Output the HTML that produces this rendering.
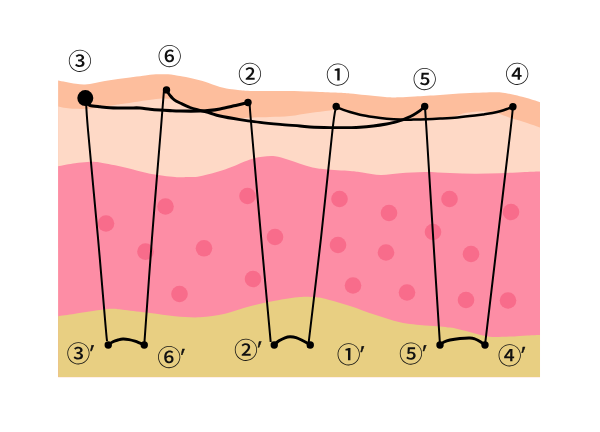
<!DOCTYPE html>
<html lang="ja"><head><meta charset="utf-8"><title>suture diagram</title>
<style>
html,body{margin:0;padding:0;background:#fff}
#w{position:relative;width:600px;height:432px;overflow:hidden;background:#fff;font-family:"Liberation Sans","Noto Sans CJK JP",sans-serif;color:#111}
svg{position:absolute;left:0;top:0}
.n{font-size:23.8px;font-weight:500;fill:#111;font-family:"Liberation Sans","Noto Sans CJK JP",sans-serif}
.p{font-size:23px;fill:#111;stroke:#111;stroke-width:.45px;stroke-linejoin:round;font-family:"Liberation Sans","Noto Sans CJK JP",sans-serif}
</style></head><body>
<div id="w">
<svg width="600" height="432" viewBox="0 0 600 432">
<defs><clipPath id="c"><rect x="58.1" y="0" width="482" height="377.2"/></clipPath></defs>
<g clip-path="url(#c)">
<path d="M58.00 80.50 C59.33 80.75 63.00 81.45 66.00 82.00 C69.00 82.55 72.83 83.38 76.00 83.80 C79.17 84.22 81.83 84.63 85.00 84.50 C88.17 84.37 91.67 83.58 95.00 83.00 C98.33 82.42 101.17 81.67 105.00 81.00 C108.83 80.33 113.83 79.58 118.00 79.00 C122.17 78.42 125.83 78.05 130.00 77.50 C134.17 76.95 139.67 76.17 143.00 75.70 C146.33 75.23 147.83 74.93 150.00 74.70 C152.17 74.47 154.00 74.38 156.00 74.30 C158.00 74.22 160.00 74.20 162.00 74.20 C164.00 74.20 166.00 74.17 168.00 74.30 C170.00 74.43 172.00 74.70 174.00 75.00 C176.00 75.30 176.92 75.52 180.00 76.10 C183.08 76.68 188.33 77.55 192.50 78.50 C196.67 79.45 200.42 80.38 205.00 81.80 C209.58 83.22 215.50 85.75 220.00 87.00 C224.50 88.25 228.67 88.75 232.00 89.30 C235.33 89.85 237.00 90.03 240.00 90.30 C243.00 90.57 244.17 90.77 250.00 90.90 C255.83 91.03 266.67 91.03 275.00 91.10 C283.33 91.17 292.50 91.15 300.00 91.30 C307.50 91.45 313.33 91.75 320.00 92.00 C326.67 92.25 335.00 92.55 340.00 92.80 C345.00 93.05 345.83 93.13 350.00 93.50 C354.17 93.87 360.83 94.58 365.00 95.00 C369.17 95.42 371.67 95.67 375.00 96.00 C378.33 96.33 382.17 96.77 385.00 97.00 C387.83 97.23 389.50 97.35 392.00 97.40 C394.50 97.45 396.17 97.45 400.00 97.30 C403.83 97.15 408.33 96.88 415.00 96.50 C421.67 96.12 431.67 95.53 440.00 95.00 C448.33 94.47 457.83 93.70 465.00 93.30 C472.17 92.90 477.67 92.77 483.00 92.60 C488.33 92.43 493.33 92.23 497.00 92.30 C500.67 92.37 502.00 92.55 505.00 93.00 C508.00 93.45 511.67 94.23 515.00 95.00 C518.33 95.77 520.83 96.40 525.00 97.60 C529.17 98.80 537.50 101.43 540.00 102.20 L540.1 377.2 L58.1 377.2 Z" fill="#fdbe9d"/>
<path d="M58.00 106.50 C59.33 106.75 63.17 107.62 66.00 108.00 C68.83 108.38 71.50 108.67 75.00 108.80 C78.50 108.93 82.83 109.03 87.00 108.80 C91.17 108.57 95.33 108.03 100.00 107.40 C104.67 106.77 110.83 105.63 115.00 105.00 C119.17 104.37 120.00 104.37 125.00 103.60 C130.00 102.83 139.33 101.22 145.00 100.40 C150.67 99.58 155.33 98.98 159.00 98.70 C162.67 98.42 164.50 98.60 167.00 98.70 C169.50 98.80 171.83 98.67 174.00 99.30 C176.17 99.93 177.33 101.22 180.00 102.50 C182.67 103.78 186.67 105.67 190.00 107.00 C193.33 108.33 196.67 109.50 200.00 110.50 C203.33 111.50 206.67 112.22 210.00 113.00 C213.33 113.78 216.67 114.53 220.00 115.20 C223.33 115.87 226.67 116.53 230.00 117.00 C233.33 117.47 236.00 117.93 240.00 118.00 C244.00 118.07 249.00 117.57 254.00 117.40 C259.00 117.23 264.00 117.23 270.00 117.00 C276.00 116.77 283.33 116.67 290.00 116.00 C296.67 115.33 303.33 113.93 310.00 113.00 C316.67 112.07 324.17 110.90 330.00 110.40 C335.83 109.90 340.50 109.57 345.00 110.00 C349.50 110.43 352.83 111.92 357.00 113.00 C361.17 114.08 364.50 115.50 370.00 116.50 C375.50 117.50 383.33 118.45 390.00 119.00 C396.67 119.55 404.17 119.75 410.00 119.80 C415.83 119.85 420.00 119.52 425.00 119.30 C430.00 119.08 434.83 119.05 440.00 118.50 C445.17 117.95 452.00 116.87 456.00 116.00 C460.00 115.13 460.83 114.02 464.00 113.30 C467.17 112.58 471.50 111.98 475.00 111.70 C478.50 111.42 481.33 111.33 485.00 111.60 C488.67 111.87 493.00 112.33 497.00 113.30 C501.00 114.27 505.00 116.12 509.00 117.40 C513.00 118.68 515.83 119.33 521.00 121.00 C526.17 122.67 536.83 126.33 540.00 127.40 L540.1 377.2 L58.1 377.2 Z" fill="#fed9c6"/>
<path d="M58.00 166.20 C60.83 165.70 70.08 163.90 75.00 163.20 C79.92 162.50 83.33 162.12 87.50 162.00 C91.67 161.88 93.75 161.58 100.00 162.50 C106.25 163.42 116.67 165.63 125.00 167.50 C133.33 169.37 141.67 172.12 150.00 173.70 C158.33 175.28 168.75 176.45 175.00 177.00 C181.25 177.55 183.33 177.13 187.50 177.00 C191.67 176.87 193.75 177.45 200.00 176.20 C206.25 174.95 216.67 172.28 225.00 169.50 C233.33 166.72 243.75 161.63 250.00 159.50 C256.25 157.37 258.33 157.25 262.50 156.70 C266.67 156.15 270.83 155.73 275.00 156.20 C279.17 156.67 283.33 158.25 287.50 159.50 C291.67 160.75 295.83 162.37 300.00 163.70 C304.17 165.03 308.33 166.58 312.50 167.50 C316.67 168.42 318.75 168.62 325.00 169.20 C331.25 169.78 343.75 170.45 350.00 171.00 C356.25 171.55 357.33 171.83 362.50 172.50 C367.67 173.17 374.75 174.88 381.00 175.00 C387.25 175.12 392.67 173.70 400.00 173.20 C407.33 172.70 416.67 172.03 425.00 172.00 C433.33 171.97 441.67 172.72 450.00 173.00 C458.33 173.28 466.67 173.67 475.00 173.70 C483.33 173.73 491.67 173.48 500.00 173.20 C508.33 172.92 518.33 172.28 525.00 172.00 C531.67 171.72 537.50 171.58 540.00 171.50 L540.1 377.2 L58.1 377.2 Z" fill="#fd8da5"/>
<circle cx="106.0" cy="223.5" r="8.3" fill="#f86c8b"/>
<circle cx="165.5" cy="206.5" r="8.3" fill="#f86c8b"/>
<circle cx="247.5" cy="196.0" r="8.3" fill="#f86c8b"/>
<circle cx="339.5" cy="199.0" r="8.3" fill="#f86c8b"/>
<circle cx="389.0" cy="213.0" r="8.3" fill="#f86c8b"/>
<circle cx="449.5" cy="199.0" r="8.3" fill="#f86c8b"/>
<circle cx="511.0" cy="212.0" r="8.3" fill="#f86c8b"/>
<circle cx="145.5" cy="251.6" r="8.3" fill="#f86c8b"/>
<circle cx="204.0" cy="248.3" r="8.3" fill="#f86c8b"/>
<circle cx="275.0" cy="237.0" r="8.3" fill="#f86c8b"/>
<circle cx="338.0" cy="245.0" r="8.3" fill="#f86c8b"/>
<circle cx="386.0" cy="252.5" r="8.3" fill="#f86c8b"/>
<circle cx="433.0" cy="232.0" r="8.3" fill="#f86c8b"/>
<circle cx="471.0" cy="254.0" r="8.3" fill="#f86c8b"/>
<circle cx="179.5" cy="294.0" r="8.3" fill="#f86c8b"/>
<circle cx="253.0" cy="279.0" r="8.3" fill="#f86c8b"/>
<circle cx="353.0" cy="285.5" r="8.3" fill="#f86c8b"/>
<circle cx="407.0" cy="292.5" r="8.3" fill="#f86c8b"/>
<circle cx="466.0" cy="300.0" r="8.3" fill="#f86c8b"/>
<circle cx="508.0" cy="300.5" r="8.3" fill="#f86c8b"/>
<path d="M58.00 316.20 C60.83 315.78 68.00 314.73 75.00 313.70 C82.00 312.67 93.75 310.83 100.00 310.00 C106.25 309.17 108.33 308.70 112.50 308.70 C116.67 308.70 118.75 309.28 125.00 310.00 C131.25 310.72 141.67 311.97 150.00 313.00 C158.33 314.03 166.67 315.48 175.00 316.20 C183.33 316.92 191.67 317.72 200.00 317.30 C208.33 316.88 216.67 315.55 225.00 313.70 C233.33 311.85 241.67 308.37 250.00 306.20 C258.33 304.03 266.67 302.23 275.00 300.70 C283.33 299.17 293.83 297.62 300.00 297.00 C306.17 296.38 307.83 296.72 312.00 297.00 C316.17 297.28 318.67 297.20 325.00 298.70 C331.33 300.20 341.67 303.32 350.00 306.00 C358.33 308.68 366.67 312.08 375.00 314.80 C383.33 317.52 391.67 320.50 400.00 322.30 C408.33 324.10 418.33 324.92 425.00 325.60 C431.67 326.28 435.83 326.07 440.00 326.40 C444.17 326.73 447.08 327.18 450.00 327.60 C452.92 328.02 454.83 328.33 457.50 328.90 C460.17 329.47 463.08 330.22 466.00 331.00 C468.92 331.78 472.00 332.80 475.00 333.60 C478.00 334.40 481.08 335.23 484.00 335.80 C486.92 336.37 488.17 336.87 492.50 337.00 C496.83 337.13 504.17 336.87 510.00 336.60 C515.83 336.33 522.50 335.68 527.50 335.40 C532.50 335.12 537.92 334.98 540.00 334.90 L540.1 377.2 L58.1 377.2 Z" fill="#e8cf82"/>
<path d="M86.00 100.00 C86.33 105.00 86.00 107.00 88.00 130.00 C90.00 153.00 95.08 205.50 98.00 238.00 C100.92 270.50 104.00 307.83 105.50 325.00 C107.00 342.17 106.75 338.33 107.00 341.00" fill="none" stroke="#000" stroke-width="2"/>
<path d="M164.00 90.00 C163.47 96.67 162.80 105.33 160.80 130.00 C158.80 154.67 154.76 202.17 152.00 238.00 C149.24 273.83 145.54 327.17 144.25 345.00" fill="none" stroke="#000" stroke-width="2"/>
<path d="M249.50 103.00 C249.87 107.50 249.78 107.83 251.70 130.00 C253.62 152.17 257.83 200.67 261.00 236.00 C264.17 271.33 269.08 324.33 270.70 342.00" fill="none" stroke="#000" stroke-width="2"/>
<path d="M336.00 107.00 C335.42 110.83 335.00 108.17 332.50 130.00 C330.00 151.83 324.88 203.33 321.00 238.00 C317.12 272.67 311.20 320.50 309.20 338.00 C307.20 355.50 309.03 342.17 309.00 343.00" fill="none" stroke="#000" stroke-width="2"/>
<path d="M425.00 107.00 C425.25 110.83 425.13 108.17 426.50 130.00 C427.87 151.83 430.95 202.17 433.20 238.00 C435.45 273.83 438.87 327.17 440.00 345.00" fill="none" stroke="#000" stroke-width="2"/>
<path d="M512.90 107.00 C512.50 110.83 513.03 108.17 510.50 130.00 C507.97 151.83 501.95 202.17 497.70 238.00 C493.45 273.83 487.12 327.17 485.00 345.00" fill="none" stroke="#000" stroke-width="2"/>
<path d="M88.00 104.00 C88.33 104.25 88.00 105.03 90.00 105.50 C92.00 105.97 96.67 106.42 100.00 106.80 C103.33 107.18 106.67 107.60 110.00 107.80 C113.33 108.00 116.67 107.97 120.00 108.00 C123.33 108.03 126.67 108.00 130.00 108.00 C133.33 108.00 136.67 107.80 140.00 108.00 C143.33 108.20 146.67 108.87 150.00 109.20 C153.33 109.53 156.67 109.77 160.00 110.00 C163.33 110.23 166.67 110.43 170.00 110.60 C173.33 110.77 175.00 110.93 180.00 111.00 C185.00 111.07 195.00 111.10 200.00 111.00 C205.00 110.90 206.67 110.75 210.00 110.40 C213.33 110.05 216.00 109.67 220.00 108.90 C224.00 108.13 229.83 106.75 234.00 105.80 C238.17 104.85 242.67 103.73 245.00 103.20 C247.33 102.67 247.50 102.70 248.00 102.60" fill="none" stroke="#000" stroke-width="3.1" stroke-linecap="round" stroke-linejoin="round"/>
<path d="M167.00 90.50 C167.22 90.92 167.80 92.20 168.30 93.00 C168.80 93.80 169.22 94.33 170.00 95.30 C170.78 96.27 172.00 97.85 173.00 98.80 C174.00 99.75 174.83 100.30 176.00 101.00 C177.17 101.70 177.67 101.92 180.00 103.00 C182.33 104.08 186.67 106.27 190.00 107.50 C193.33 108.73 196.67 109.48 200.00 110.40 C203.33 111.32 206.67 112.07 210.00 113.00 C213.33 113.93 215.00 114.90 220.00 116.00 C225.00 117.10 233.33 118.53 240.00 119.60 C246.67 120.67 253.33 121.60 260.00 122.40 C266.67 123.20 273.33 123.80 280.00 124.40 C286.67 125.00 295.00 125.57 300.00 126.00 C305.00 126.43 305.00 126.73 310.00 127.00 C315.00 127.27 323.33 127.50 330.00 127.60 C336.67 127.70 345.00 127.65 350.00 127.60 C355.00 127.55 356.12 127.57 360.00 127.30 C363.88 127.03 368.85 126.55 373.30 126.00 C377.75 125.45 383.37 124.57 386.70 124.00 C390.03 123.43 391.08 123.15 393.30 122.60 C395.52 122.05 397.77 121.45 400.00 120.70 C402.23 119.95 404.48 119.07 406.70 118.10 C408.92 117.13 411.08 116.15 413.30 114.90 C415.52 113.65 418.10 112.00 420.00 110.60 C421.90 109.20 423.92 107.18 424.70 106.50" fill="none" stroke="#000" stroke-width="2.9" stroke-linecap="round" stroke-linejoin="round"/>
<path d="M336.00 106.00 C336.50 106.37 336.67 107.20 339.00 108.20 C341.33 109.20 346.50 110.92 350.00 112.00 C353.50 113.08 356.12 113.87 360.00 114.70 C363.88 115.53 368.85 116.33 373.30 117.00 C377.75 117.67 382.25 118.27 386.70 118.70 C391.15 119.13 395.57 119.45 400.00 119.60 C404.43 119.75 408.85 119.65 413.30 119.60 C417.75 119.55 422.25 119.47 426.70 119.30 C431.15 119.13 434.87 118.92 440.00 118.60 C445.13 118.28 451.67 117.90 457.50 117.40 C463.33 116.90 470.58 116.10 475.00 115.60 C479.42 115.10 481.08 114.83 484.00 114.40 C486.92 113.97 489.67 113.57 492.50 113.00 C495.33 112.43 498.42 111.73 501.00 111.00 C503.58 110.27 506.02 109.32 508.00 108.60 C509.98 107.88 512.08 107.02 512.90 106.70" fill="none" stroke="#000" stroke-width="2.5" stroke-linecap="round" stroke-linejoin="round"/>
<path d="M108.50 344.80 C109.25 344.30 111.42 342.60 113.00 341.80 C114.58 341.00 116.33 340.47 118.00 340.00 C119.67 339.53 121.17 339.07 123.00 339.00 C124.83 338.93 127.00 339.23 129.00 339.60 C131.00 339.97 133.17 340.60 135.00 341.20 C136.83 341.80 138.46 342.57 140.00 343.20 C141.54 343.83 143.54 344.70 144.25 345.00" fill="none" stroke="#000" stroke-width="2.9" stroke-linecap="round" stroke-linejoin="round"/>
<path d="M274.30 344.70 C275.08 344.05 277.22 341.95 279.00 340.80 C280.78 339.65 283.17 338.47 285.00 337.80 C286.83 337.13 288.17 336.83 290.00 336.80 C291.83 336.77 293.83 336.93 296.00 337.60 C298.17 338.27 300.62 339.62 303.00 340.80 C305.38 341.98 309.08 344.05 310.30 344.70" fill="none" stroke="#000" stroke-width="2.9" stroke-linecap="round" stroke-linejoin="round"/>
<path d="M440.00 345.00 C440.67 344.50 442.33 342.83 444.00 342.00 C445.67 341.17 447.33 340.58 450.00 340.00 C452.67 339.42 456.67 338.83 460.00 338.50 C463.33 338.17 467.50 337.92 470.00 338.00 C472.50 338.08 473.33 338.42 475.00 339.00 C476.67 339.58 478.38 340.50 480.00 341.50 C481.62 342.50 483.92 344.42 484.70 345.00" fill="none" stroke="#000" stroke-width="2.9" stroke-linecap="round" stroke-linejoin="round"/>
<circle cx="85.30" cy="98.10" r="8.0" fill="#000"/>
<circle cx="166.50" cy="89.90" r="3.7" fill="#000"/>
<circle cx="248.00" cy="102.50" r="3.7" fill="#000"/>
<circle cx="336.20" cy="106.50" r="3.7" fill="#000"/>
<circle cx="424.70" cy="106.50" r="3.7" fill="#000"/>
<circle cx="512.90" cy="106.70" r="3.7" fill="#000"/>
<circle cx="108.25" cy="345.00" r="3.7" fill="#000"/>
<circle cx="144.25" cy="345.00" r="3.7" fill="#000"/>
<circle cx="274.25" cy="345.00" r="3.7" fill="#000"/>
<circle cx="310.25" cy="345.00" r="3.7" fill="#000"/>
<circle cx="440.00" cy="345.00" r="3.7" fill="#000"/>
<circle cx="485.00" cy="345.00" r="3.7" fill="#000"/>
</g>
<g transform="translate(80.00 60.70) rotate(0.3)"><text class="n" x="-11.84" y="9.07">③</text></g>
<g transform="translate(169.65 56.10) rotate(0.3)"><text class="n" x="-11.84" y="9.07">⑥</text></g>
<g transform="translate(249.85 73.65) rotate(0.3)"><text class="n" x="-11.84" y="9.07">②</text></g>
<g transform="translate(337.85 74.40) rotate(0.3)"><text class="n" x="-11.84" y="9.07">①</text></g>
<g transform="translate(424.65 79.00) rotate(0.3)"><text class="n" x="-11.84" y="9.07">⑤</text></g>
<g transform="translate(517.25 73.65) rotate(0.3)"><text class="n" x="-11.84" y="9.07">④</text></g>
<g transform="translate(78.50 353.25) rotate(0.3)"><text class="n" x="-11.84" y="9.07">③</text><text class="p" transform="translate(10.28 7.60) skewX(-4)">′</text></g>
<g transform="translate(169.25 357.00) rotate(0.3)"><text class="n" x="-11.84" y="9.07">⑥</text><text class="p" transform="translate(10.28 7.60) skewX(-4)">′</text></g>
<g transform="translate(246.00 349.65) rotate(0.3)"><text class="n" x="-11.84" y="9.07">②</text><text class="p" transform="translate(10.28 7.60) skewX(-4)">′</text></g>
<g transform="translate(348.65 354.35) rotate(0.3)"><text class="n" x="-11.84" y="9.07">①</text><text class="p" transform="translate(10.28 7.60) skewX(-4)">′</text></g>
<g transform="translate(411.00 353.45) rotate(0.3)"><text class="n" x="-11.84" y="9.07">⑤</text><text class="p" transform="translate(10.28 7.60) skewX(-4)">′</text></g>
<g transform="translate(509.75 355.15) rotate(0.3)"><text class="n" x="-11.84" y="9.07">④</text><text class="p" transform="translate(10.28 7.60) skewX(-4)">′</text></g>
</svg>
</div>
</body></html>
